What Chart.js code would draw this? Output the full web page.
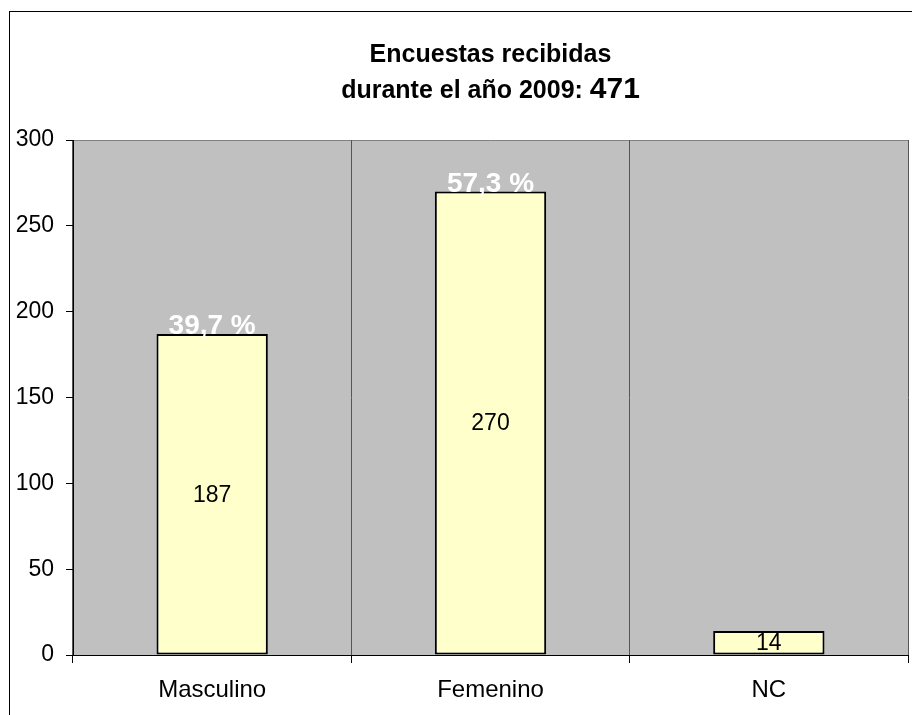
<!DOCTYPE html>
<html>
<head>
<meta charset="utf-8">
<script src="https://cdn.jsdelivr.net/npm/chart.js@4/dist/chart.umd.min.js"></script>
<style>
    html, body { margin: 0; padding: 0; background: #fff; }
    #wrap { width: 912px; height: 715px; }
</style>
</head>
<body>
<div id="wrap"><canvas id="surveyChart" width="912" height="715"></canvas></div>
<script>
// Data
const categories = ['Masculino', 'Femenino', 'NC'];
const counts = [187, 270, 14];
const percentLabels = ['39,7 %', '57,3 %', ''];
const yTicks = [0, 50, 100, 150, 200, 250, 300];
const titleLine1 = 'Encuestas recibidas';
const titleLine2 = 'durante el año 2009: ';
const titleTotal = '471';

const FONT = '"Liberation Sans", Arial, sans-serif';

// Background, frame, plot area fill and the two-line title
const framePlugin = {
    id: 'frame',
    beforeDraw(chart) {
        const ctx = chart.ctx;
        const a = chart.chartArea;
        ctx.save();
        ctx.fillStyle = '#fff';
        ctx.fillRect(0, 0, chart.width, chart.height);
        ctx.strokeStyle = '#000';
        ctx.lineWidth = 1;
        ctx.strokeRect(9.5, 11.5, 920, 720);
        ctx.fillStyle = '#c0c0c0';
        ctx.fillRect(a.left, a.top, a.right - a.left, a.bottom - a.top);
        ctx.strokeStyle = '#808080';
        ctx.beginPath();
        ctx.moveTo(a.left, a.top + 0.5);
        ctx.lineTo(a.right, a.top + 0.5);
        ctx.stroke();
        ctx.restore();
    },
    afterDraw(chart) {
        const ctx = chart.ctx;
        const a = chart.chartArea;
        const cx = (a.left + a.right) / 2;
        ctx.save();
        ctx.fillStyle = '#000';
        ctx.textBaseline = 'alphabetic';
        ctx.textAlign = 'center';
        ctx.font = 'bold 25px ' + FONT;
        ctx.fillText(titleLine1, cx, 62);
        const w1 = ctx.measureText(titleLine2).width;
        ctx.font = 'bold 30px ' + FONT;
        const w2 = ctx.measureText(titleTotal).width;
        const start = cx - (w1 + w2) / 2;
        ctx.textAlign = 'left';
        ctx.font = 'bold 25px ' + FONT;
        ctx.fillText(titleLine2, start, 98);
        ctx.font = 'bold 30px ' + FONT;
        ctx.fillText(titleTotal, start + w1, 98);
        ctx.restore();
    }
};

// Value inside each bar and percentage above it
const labelPlugin = {
    id: 'barLabels',
    afterDatasetsDraw(chart) {
        const ctx = chart.ctx;
        const meta = chart.getDatasetMeta(0);
        ctx.save();
        ctx.textAlign = 'center';
        meta.data.forEach((bar, i) => {
            ctx.fillStyle = '#000';
            ctx.font = '23px ' + FONT;
            ctx.textBaseline = 'middle';
            ctx.fillText(String(counts[i]), bar.x, (bar.y + bar.base) / 2 + 1);
            if (percentLabels[i]) {
                ctx.fillStyle = '#fff';
                ctx.font = 'bold 28px ' + FONT;
                ctx.textBaseline = 'alphabetic';
                ctx.fillText(percentLabels[i], bar.x, bar.y);
            }
        });
        ctx.restore();
    }
};

const ctx = document.getElementById('surveyChart').getContext('2d');
const surveyChart = new Chart(ctx, {
    type: 'bar',
    data: {
        labels: categories,
        datasets: [{
            data: counts,
            backgroundColor: '#ffffcc',
            borderColor: '#000',
            borderWidth: 2,
            borderSkipped: false,
            categoryPercentage: 1,
            barPercentage: 0.4
        }]
    },
    options: {
        responsive: false,
        animation: false,
        devicePixelRatio: 1,
        layout: { padding: { top: 140, left: 0, right: 4, bottom: 0 } },
        plugins: {
            legend: { display: false },
            title: { display: false },
            tooltip: { enabled: false }
        },
        scales: {
            x: {
                offset: true,
                grid: {
                    offset: true,
                    color: '#555',
                    lineWidth: 1,
                    drawTicks: true,
                    tickLength: 8,
                    tickColor: '#000'
                },
                border: { color: '#000', width: 1 },
                ticks: {
                    color: '#000',
                    font: { family: FONT, size: 24 },
                    padding: 13
                },
                afterFit(scale) { scale.height = 60; }
            },
            y: {
                min: yTicks[0],
                max: yTicks[yTicks.length - 1],
                afterBuildTicks(scale) {
                    scale.ticks = yTicks.map(v => ({ value: v }));
                },
                grid: {
                    drawOnChartArea: false,
                    tickLength: 7,
                    tickColor: '#000'
                },
                border: { color: '#000', width: 1 },
                ticks: {
                    color: '#000',
                    font: { family: FONT, size: 23 },
                    padding: 12
                },
                afterFit(scale) { scale.width = 73; }
            }
        }
    },
    plugins: [framePlugin, labelPlugin]
});
</script>
</body>
</html>
